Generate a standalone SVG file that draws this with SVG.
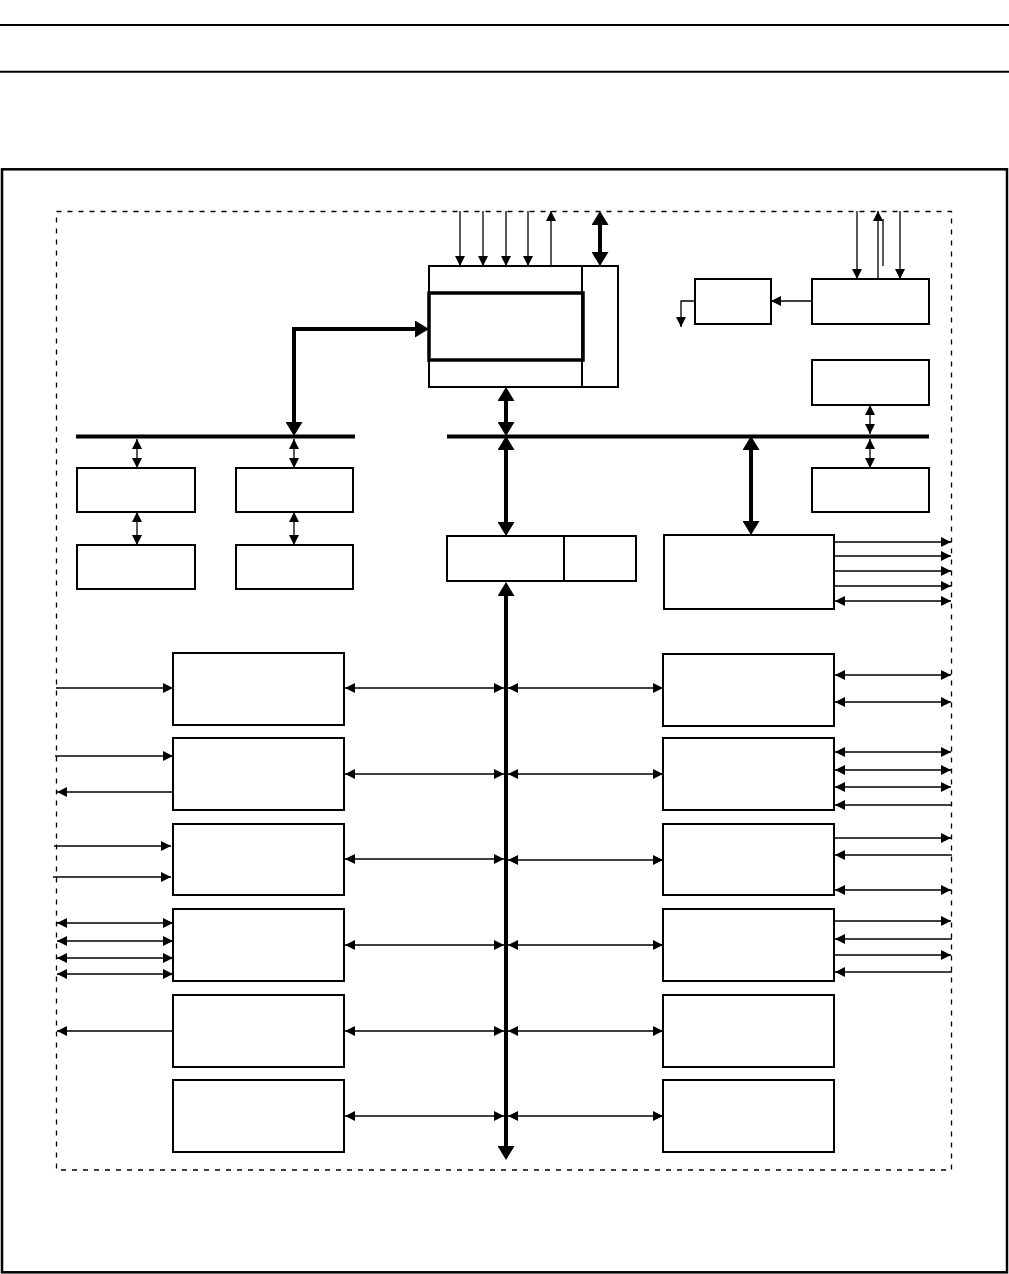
<svg xmlns="http://www.w3.org/2000/svg" width="1009" height="1274" viewBox="0 0 1009 1274">
<defs>
<marker id="a" markerUnits="userSpaceOnUse" markerWidth="10" markerHeight="10" refX="10" refY="5" orient="auto-start-reverse"><path d="M0,0 L10,5 L0,10 z" fill="#000"/></marker>
<marker id="A" markerUnits="userSpaceOnUse" markerWidth="15" markerHeight="17" refX="10" refY="8.5" orient="auto-start-reverse"><path d="M0,0 L14,8.5 L0,17 z" fill="#000"/></marker>
</defs>
<style>
.box{fill:#fff;stroke:#000;stroke-width:2}
.thin{fill:none;stroke:#000;stroke-width:1.3}
.thick{fill:none;stroke:#000;stroke-width:4}
.e{marker-end:url(#a)}
.d{marker-start:url(#a);marker-end:url(#a)}
.E{marker-end:url(#A)}
.D{marker-start:url(#A);marker-end:url(#A)}
</style>
<rect width="1009" height="1274" fill="#fff"/>
<g id="header">
<line x1="0" y1="25" x2="1009" y2="25" stroke="#000" stroke-width="2"/>
<line x1="0" y1="71.7" x2="1009" y2="71.7" stroke="#000" stroke-width="2"/>
</g>
<g id="frame">
<rect x="2" y="169.3" width="1005" height="1103" fill="none" stroke="#000" stroke-width="2.5"/>
<rect x="56.5" y="211.5" width="895" height="958.5" fill="none" stroke="#000" stroke-width="1.3" stroke-dasharray="5,6"/>
</g>
<g id="buses">
<line class="thick" x1="76" y1="436.5" x2="355" y2="436.5"/>
<line class="thick" x1="447" y1="436.5" x2="929" y2="436.5"/>
</g>
<g id="cpu">
<rect class="box" x="429" y="266" width="189" height="121"/>
<line x1="582" y1="266" x2="582" y2="387" stroke="#000" stroke-width="2"/>
<rect x="429" y="293" width="154" height="67" fill="none" stroke="#000" stroke-width="3.5"/>
</g>
<g id="nodeE"><rect class="box" x="695" y="279" width="76" height="45"/></g>
<g id="nodeF"><rect class="box" x="812" y="279" width="117" height="45"/></g>
<g id="nodeG"><rect class="box" x="812" y="360" width="117" height="45"/></g>
<g id="nodeH"><rect class="box" x="812" y="468" width="117" height="44"/></g>
<g id="nodeL1"><rect class="box" x="77" y="468" width="118" height="44"/></g>
<g id="nodeL2"><rect class="box" x="77" y="545" width="118" height="44"/></g>
<g id="nodeL3"><rect class="box" x="236" y="468" width="117" height="44"/></g>
<g id="nodeL4"><rect class="box" x="236" y="545" width="117" height="44"/></g>
<g id="nodeI">
<rect class="box" x="447" y="536" width="189" height="45"/>
<line x1="564" y1="536" x2="564" y2="581" stroke="#000" stroke-width="2"/>
</g>
<g id="nodeJ"><rect class="box" x="664" y="535" width="170" height="74"/></g>
<g id="leftCol">
<rect id="p1" class="box" x="173" y="653" width="171" height="72"/>
<rect id="p2" class="box" x="173" y="738" width="171" height="72"/>
<rect id="p3" class="box" x="173" y="824" width="171" height="71"/>
<rect id="p4" class="box" x="173" y="909" width="171" height="72"/>
<rect id="p5" class="box" x="173" y="995" width="171" height="72"/>
<rect id="p6" class="box" x="173" y="1080" width="171" height="72"/>
</g>
<g id="rightCol">
<rect id="q1" class="box" x="663" y="654" width="171" height="72"/>
<rect id="q2" class="box" x="663" y="738" width="171" height="72"/>
<rect id="q3" class="box" x="663" y="824" width="171" height="71"/>
<rect id="q4" class="box" x="663" y="909" width="171" height="72"/>
<rect id="q5" class="box" x="663" y="995" width="171" height="72"/>
<rect id="q6" class="box" x="663" y="1080" width="171" height="72"/>
</g>
<g id="connectors">
<!-- thick -->
<line class="thick D" x1="600" y1="215" x2="600" y2="262"/>
<path class="thick D" d="M294,432 L294,329 L425,329"/>
<line class="thick D" x1="506" y1="391" x2="506" y2="432"/>
<line class="thick D" x1="506" y1="440" x2="506" y2="532"/>
<line class="thick D" x1="751" y1="440" x2="751" y2="531"/>
<line class="thick D" x1="506" y1="586" x2="506" y2="1156"/>
<!-- cpu top -->
<line class="thin e" x1="460" y1="211" x2="460" y2="266"/>
<line class="thin e" x1="483" y1="211" x2="483" y2="266"/>
<line class="thin e" x1="506" y1="211" x2="506" y2="266"/>
<line class="thin e" x1="528" y1="211" x2="528" y2="266"/>
<line class="thin e" x1="551" y1="266" x2="551" y2="211"/>
<!-- top right -->
<line class="thin e" x1="857" y1="211" x2="857" y2="279"/>
<line class="thin e" x1="878" y1="279" x2="878" y2="211"/>
<line class="thin" x1="883" y1="219" x2="883" y2="266"/>
<line class="thin e" x1="900" y1="211" x2="900" y2="279"/>
<line class="thin e" x1="812" y1="301" x2="771" y2="301"/>
<path class="thin e" d="M695,301 L681,301 L681,327"/>
<line class="thin d" x1="870" y1="405" x2="870" y2="434"/>
<line class="thin d" x1="870" y1="439" x2="870" y2="468"/>
<!-- left bus blocks -->
<line class="thin d" x1="137" y1="439" x2="137" y2="468"/>
<line class="thin d" x1="137" y1="512" x2="137" y2="545"/>
<line class="thin d" x1="294" y1="439" x2="294" y2="468"/>
<line class="thin d" x1="294" y1="512" x2="294" y2="545"/>
<!-- J outputs -->
<line class="thin e" x1="834" y1="542" x2="951" y2="542"/>
<line class="thin e" x1="834" y1="556" x2="951" y2="556"/>
<line class="thin e" x1="834" y1="571" x2="951" y2="571"/>
<line class="thin e" x1="834" y1="586" x2="951" y2="586"/>
<line class="thin d" x1="835" y1="601" x2="951" y2="601"/>
<!-- left column to bus -->
<line class="thin d" x1="345" y1="688" x2="504" y2="688"/>
<line class="thin d" x1="345" y1="774" x2="504" y2="774"/>
<line class="thin d" x1="345" y1="859" x2="504" y2="859"/>
<line class="thin d" x1="345" y1="945" x2="504" y2="945"/>
<line class="thin d" x1="345" y1="1031" x2="504" y2="1031"/>
<line class="thin d" x1="345" y1="1116" x2="504" y2="1116"/>
<!-- bus to right column -->
<line class="thin d" x1="508" y1="688" x2="663" y2="688"/>
<line class="thin d" x1="508" y1="774" x2="663" y2="774"/>
<line class="thin d" x1="508" y1="860" x2="663" y2="860"/>
<line class="thin d" x1="508" y1="945" x2="663" y2="945"/>
<line class="thin d" x1="508" y1="1031" x2="663" y2="1031"/>
<line class="thin d" x1="508" y1="1116" x2="663" y2="1116"/>
<!-- left external -->
<line class="thin e" x1="56" y1="688" x2="173" y2="688"/>
<line class="thin e" x1="55" y1="756" x2="173" y2="756"/>
<line class="thin e" x1="173" y1="792" x2="57" y2="792"/>
<line class="thin e" x1="54" y1="846" x2="171" y2="846"/>
<line class="thin e" x1="53" y1="877" x2="171" y2="877"/>
<line class="thin d" x1="57" y1="923" x2="173" y2="923"/>
<line class="thin d" x1="57" y1="941" x2="173" y2="941"/>
<line class="thin d" x1="57" y1="958" x2="173" y2="958"/>
<line class="thin d" x1="57" y1="974" x2="173" y2="974"/>
<line class="thin e" x1="173" y1="1031" x2="57" y2="1031"/>
<!-- right external -->
<line class="thin d" x1="835" y1="675" x2="951" y2="675"/>
<line class="thin d" x1="835" y1="702" x2="951" y2="702"/>
<line class="thin d" x1="835" y1="752" x2="951" y2="752"/>
<line class="thin d" x1="835" y1="770" x2="951" y2="770"/>
<line class="thin d" x1="835" y1="787" x2="951" y2="787"/>
<line class="thin e" x1="952" y1="805" x2="835" y2="805"/>
<line class="thin e" x1="834" y1="838" x2="951" y2="838"/>
<line class="thin e" x1="952" y1="855" x2="835" y2="855"/>
<line class="thin d" x1="835" y1="890" x2="951" y2="890"/>
<line class="thin e" x1="834" y1="921" x2="951" y2="921"/>
<line class="thin e" x1="952" y1="939" x2="835" y2="939"/>
<line class="thin e" x1="834" y1="955" x2="951" y2="955"/>
<line class="thin e" x1="952" y1="972" x2="835" y2="972"/>
</g>
</svg>
